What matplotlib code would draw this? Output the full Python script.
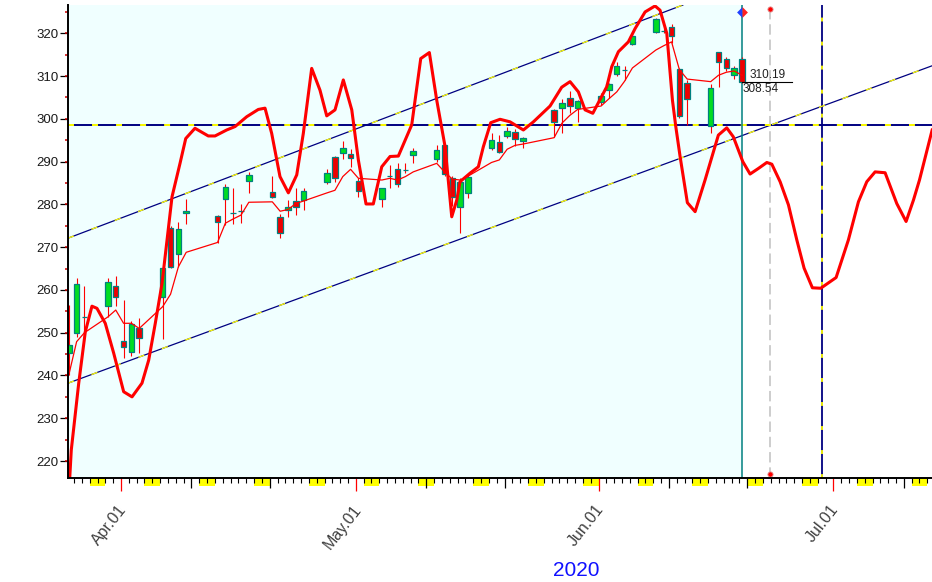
import datetime as dt
import matplotlib
matplotlib.use("Agg")
import matplotlib.pyplot as plt
import matplotlib.transforms as mtransforms
from matplotlib.patches import Rectangle
from matplotlib.path import Path

plt.rcParams['font.family'] = ['Liberation Sans', 'DejaVu Sans']
plt.rcParams['lines.scale_dashes'] = False

# ---------------- data ----------------
dates = ['2020-03-25', '2020-03-26', '2020-03-27', '2020-03-30', '2020-03-31',
         '2020-04-01', '2020-04-02', '2020-04-03', '2020-04-06', '2020-04-07',
         '2020-04-08', '2020-04-09', '2020-04-13', '2020-04-14', '2020-04-15',
         '2020-04-16', '2020-04-17', '2020-04-20', '2020-04-21', '2020-04-22',
         '2020-04-23', '2020-04-24', '2020-04-27', '2020-04-28', '2020-04-29',
         '2020-04-30', '2020-05-01', '2020-05-04', '2020-05-05', '2020-05-06',
         '2020-05-07', '2020-05-08', '2020-05-11', '2020-05-12', '2020-05-13',
         '2020-05-14', '2020-05-15', '2020-05-18', '2020-05-19', '2020-05-20',
         '2020-05-21', '2020-05-22', '2020-05-26', '2020-05-27', '2020-05-28',
         '2020-05-29', '2020-06-01', '2020-06-02', '2020-06-03', '2020-06-04',
         '2020-06-05', '2020-06-08', '2020-06-09', '2020-06-10', '2020-06-11',
         '2020-06-12', '2020-06-15', '2020-06-16', '2020-06-17', '2020-06-18',
         '2020-06-19']
opens = [245.3, 249.9, 253.6, 256.2, 260.9, 248.1, 245.6, 251.0, 258.3, 274.4,
         268.3, 277.9, 277.3, 281.3, 277.9, 278.5, 285.5, 282.9, 277.0, 278.7,
         280.8, 281.0, 285.2, 291.0, 291.9, 291.7, 285.5, 281.2, 286.7, 288.2,
         288.0, 291.5, 290.6, 293.9, 286.2, 279.3, 282.7, 293.3, 294.5, 296.1,
         296.9, 294.9, 302.1, 302.5, 304.8, 302.6, 303.9, 306.7, 310.4, 311.4,
         317.4, 320.4, 320.6, 321.4, 311.7, 308.3, 298.3, 315.6, 314.1, 310.2,
         314.1]
highs = [256.5, 262.9, 260.9, 262.7, 263.3, 257.6, 252.8, 253.4, 265.1, 275.0,
         276.0, 281.2, 277.5, 284.7, 283.8, 280.2, 287.6, 286.6, 277.8, 281.0,
         283.8, 283.8, 288.2, 291.3, 294.9, 292.9, 286.1, 283.8, 289.2, 289.7,
         289.7, 293.1, 293.9, 294.1, 286.6, 286.1, 286.9, 296.8, 296.2, 298.0,
         297.6, 295.8, 302.2, 304.6, 306.6, 304.4, 306.0, 308.5, 313.2, 312.4,
         320.0, 323.5, 321.2, 322.2, 311.8, 309.1, 308.1, 315.7, 314.5, 312.4,
         314.4]
lows = [240.1, 249.1, 248.0, 253.7, 256.2, 244.2, 244.6, 245.3, 248.5, 265.1,
        265.4, 275.4, 271.0, 275.2, 275.4, 275.7, 282.6, 281.4, 272.1, 277.0,
        277.5, 278.7, 284.8, 285.3, 290.5, 288.7, 281.7, 279.3, 283.8, 284.0,
        287.3, 289.7, 290.0, 286.6, 279.6, 273.2, 281.4, 292.7, 291.9, 295.6,
        293.6, 293.1, 295.8, 296.8, 301.3, 299.3, 303.2, 304.8, 310.0, 309.1,
        317.3, 320.0, 320.0, 317.7, 300.1, 298.6, 296.8, 307.5, 311.2, 309.3,
        308.5]
closes = [247.1, 261.3, 253.6, 261.8, 258.3, 246.6, 252.0, 248.7, 265.1, 265.4,
          274.2, 278.5, 276.0, 284.0, 277.9, 278.5, 286.9, 281.8, 273.4, 279.3,
          279.5, 283.2, 287.3, 286.1, 293.3, 290.8, 283.1, 283.8, 286.7, 284.8,
          288.0, 292.5, 292.7, 287.0, 281.8, 285.2, 286.5, 295.1, 292.2, 297.1,
          295.2, 295.5, 299.3, 303.6, 303.1, 304.2, 305.4, 308.1, 312.4, 311.4,
          319.4, 323.3, 320.6, 319.4, 300.7, 304.6, 307.1, 313.2, 311.8, 311.8,
          308.54]
ma_vals = [240.1, 247.9, 250.0, 253.7, 255.3, 252.2, 252.2, 251.0, 256.1, 259.0,
           265.4, 268.8, 271.1, 275.6, 276.6, 277.5, 280.5, 280.6, 278.4, 278.8,
           280.2, 280.8, 282.7, 283.3, 286.5, 288.2, 286.1, 285.7, 286.1, 285.7,
           286.5, 287.6, 289.6, 287.6, 285.9, 285.7, 286.6, 289.8, 290.4, 292.9,
           293.8, 294.1, 295.6, 299.0, 300.8, 302.2, 303.0, 304.7, 306.3, 308.8,
           311.9, 316.1, 317.1, 318.0, 311.5, 309.3, 308.7, 310.2, 310.9, 311.2,
           310.19]

# projected cycle curve: days after 2020-04-01 and values
cycle_days = [-6.64, -6.35, -5.40, -4.56, -3.71, -3.07, -2.01, -0.93, 0.34, 1.41,
              2.68, 3.54, 4.38, 5.24, 6.52, 7.54, 8.27, 9.45, 11.15, 12.01,
              13.50, 14.57, 16.06, 17.54, 18.40, 19.25, 20.31, 21.38, 22.45, 23.29,
              24.36, 25.42, 26.28, 27.34, 28.40, 29.48, 30.32, 31.30, 32.23, 33.31,
              34.37, 35.43, 37.14, 38.29, 39.39, 40.33, 41.40, 42.25, 42.89, 43.31,
              44.59, 45.65, 46.29, 47.23, 48.42, 49.70, 51.40, 52.68, 54.81, 56.30,
              57.36, 58.43, 59.28, 60.27, 62.05, 62.69, 63.54, 64.81, 65.67, 66.95,
              68.22, 68.86, 69.72, 70.44, 70.87, 71.42, 72.35, 73.34, 74.61, 76.31,
              77.38, 78.22, 79.43, 80.36, 81.42, 82.50, 83.14, 84.20, 85.26, 86.33,
              87.26, 88.32, 89.39, 91.35, 92.92, 94.20, 95.27, 96.33, 97.61, 99.10,
              100.29, 101.23, 102.00, 103.62]
cycle_vals = [213.0, 222.6, 238.2, 250.2, 256.2, 255.7, 252.2, 245.2, 236.2, 235.0,
              238.2, 243.6, 252.2, 261.5, 281.8, 289.6, 295.4, 297.8, 296.0, 296.0,
              297.4, 298.2, 300.5, 302.2, 302.5, 296.6, 286.5, 282.7, 286.9, 296.6,
              311.8, 306.7, 300.7, 302.1, 309.1, 302.1, 290.4, 280.1, 280.1, 288.8,
              291.2, 291.3, 298.6, 314.1, 315.5, 304.4, 293.5, 277.1, 281.0, 285.3,
              287.3, 288.8, 293.5, 299.1, 299.9, 299.3, 297.4, 299.3, 303.0, 307.4,
              308.7, 306.3, 302.1, 301.3, 307.5, 312.2, 315.7, 318.0, 321.1, 325.0,
              326.4, 325.4, 320.0, 304.4, 298.2, 291.2, 280.4, 278.3, 285.7, 296.2,
              297.9, 295.8, 290.0, 287.1, 288.4, 289.8, 289.4, 285.3, 279.9, 271.7,
              265.1, 260.5, 260.4, 262.9, 271.7, 280.6, 285.3, 287.6, 287.4, 280.2,
              276.0, 281.0, 285.7, 297.4]

tick_dates = ['2020-04-01', '2020-05-01', '2020-06-01', '2020-07-01']
tick_labels = ['Apr.01', 'May.01', 'Jun.01', 'Jul.01']
year_label = '2020'
level_h = 298.6
upper_channel = [(-6.77, 272.1), (71.6, 326.5)]
lower_channel = [(-6.77, 238.2), (103.6, 312.4)]
marker_day = 82.92
cycle_line_day = 89.57
label_ma = '310.19'
label_close = '308.54'
close_level = 308.54

# ---------------- helpers ----------------
BASE = dt.date(2020, 4, 1)


def dnum(s):
    y, m, d = map(int, s.split('-'))
    return (dt.date(y, m, d) - BASE).days


XMIN, XMAX = -6.77, 103.6
YMIN, YMAX = 216.03, 326.62
OFF = 0.33

fig = plt.figure(figsize=(9.32, 5.82), dpi=100)
ax = fig.add_axes([68 / 932, 104 / 582, 864 / 932, 473 / 582])
ax.set_xlim(XMIN, XMAX)
ax.set_ylim(YMIN, YMAX)
ax.set_facecolor('white')

xs = [dnum(s) + OFF for s in dates]
last_x = xs[-1]

# light cyan history area
ax.axvspan(XMIN, last_x, color='#F0FFFF', zorder=0, lw=0)

NAVY = '#000080'
YEL = '#FFFF00'

# horizontal level line
ax.axhline(level_h, color=NAVY, lw=1.4, zorder=1.5)
ax.axhline(level_h, color=YEL, lw=1.4, zorder=1.6, dashes=(4.3, 13.0))

# channel lines
for p1, p2 in (upper_channel, lower_channel):
    ax.axline(p1, p2, color=NAVY, lw=0.9, zorder=1.5)
    ax.axline(p1, p2, color=YEL, lw=0.9, zorder=1.6, dashes=(4.5, 13.5))

# vertical cycle line
ax.axvline(cycle_line_day, color=NAVY, lw=1.3, zorder=1.5)
ax.axvline(cycle_line_day, color=YEL, lw=1.3, zorder=1.6, dashes=(2.8, 14.5))

# last bar line
ax.axvline(last_x, color='#008080', lw=1.1, zorder=1.7)

# grey dashed marker line with red dots
ax.plot([marker_day, marker_day], [325.8, 216.96], color='#C0C0C0', lw=1.1,
        dashes=(7.5, 3.5), zorder=1.5)
ax.plot([marker_day, marker_day], [325.8, 216.96], ls='none', marker='o', ms=3.8,
        mfc='#FF0000', mec='#E0A0A0', mew=0.6, zorder=6, clip_on=False)

# diamond at top of last bar line
left_half = Path([(-1, 0), (0, 1), (0, -1), (-1, 0)], closed=True)
right_half = Path([(1, 0), (0, 1), (0, -1), (1, 0)], closed=True)
ax.plot([last_x], [325.0], marker=left_half, ms=7.8, color='#2040FF', mew=0,
        ls='none', zorder=7, clip_on=False)
ax.plot([last_x], [325.0], marker=right_half, ms=7.8, color='#FF2020', mew=0,
        ls='none', zorder=7, clip_on=False)

# candlesticks
GREEN = '#00DD22'
RED = '#EE0000'
TEAL = '#008080'
W = 0.7
for x, o, h, l, c in zip(xs, opens, highs, lows, closes):
    ax.plot([x, x], [l, h], color='#FF0000', lw=0.8, zorder=3, solid_capstyle='butt')
    lo, hi = min(o, c), max(o, c)
    fc = GREEN if c > o else (RED if c < o else TEAL)
    ax.add_patch(Rectangle((x - W / 2, lo), W, hi - lo, facecolor=fc,
                           edgecolor=TEAL, lw=0.9, zorder=3.5))

# moving average
ax.plot(xs, ma_vals, color='#FF0000', lw=0.9, zorder=4)

# projected cycle curve
ax.plot(cycle_days, cycle_vals, color='#FF0000', lw=2.2, zorder=5,
        solid_joinstyle='round')

# last values labels
ax.plot([last_x, 85.69], [close_level, close_level], color='black', lw=0.8, zorder=6)
ax.text(80.23, 310.25, label_ma, fontsize=8.5, color='#202020', va='center', ha='left', zorder=7)
ax.text(79.46, 306.9, label_close, fontsize=8.5, color='#202020', va='center', ha='left', zorder=7)

# ---------------- axes styling ----------------
for s in ('top', 'right'):
    ax.spines[s].set_visible(False)
for s in ('left', 'bottom'):
    ax.spines[s].set_linewidth(1.4)
    ax.spines[s].set_color('black')
    ax.spines[s].set_zorder(8)

# y axis
ax.set_yticks(range(220, 321, 10))
ax.set_yticks(range(220, 326, 5), minor=True)
ax.yaxis.remove_overlapping_locs = False
ax.tick_params(axis='y', which='major', length=5.8, width=0.9, color='black',
               labelsize=9.5, labelcolor='#1a1a1a', pad=1.2)
ax.tick_params(axis='y', which='minor', length=2.2, width=1.1, color='#CC0000')

# x axis: day ticks
first_day = int(XMIN) - 1
all_days = [d for d in range(first_day, int(XMAX) + 1) if XMIN <= d <= XMAX]
major_days = []
first_of_month = set(dnum(s) for s in tick_dates)
for d in all_days:
    day = BASE + dt.timedelta(days=d)
    if day.day in (1, 10, 20):
        major_days.append(d)
ax.set_xticks(major_days)
ax.set_xticklabels([''] * len(major_days))
ax.set_xticks(all_days, minor=True)
ax.tick_params(axis='x', which='minor', length=3.6, width=0.8, color='black')
ax.tick_params(axis='x', which='major', length=7.2, width=0.9, color='black')
for tk, d in zip(ax.xaxis.get_major_ticks(), major_days):
    if d in first_of_month:
        tk.tick1line.set_markeredgecolor('#FF0000')
        tk.tick1line.set_markersize(9.3)

# weekend blocks under axis
btrans = mtransforms.blended_transform_factory(ax.transData, ax.transAxes)
h_frac = 7.7 / 473
for d in all_days:
    day = BASE + dt.timedelta(days=d)
    if day.weekday() == 5:
        ax.add_patch(Rectangle((d, -h_frac), 2, h_frac, transform=btrans,
                               facecolor='#FFFF00', edgecolor='none',
                               clip_on=False, zorder=1))

# month labels
lab_trans = mtransforms.offset_copy(btrans, fig=fig, x=8.5, y=-24, units='dots')
for s, lab in zip(tick_dates, tick_labels):
    ax.text(dnum(s), 0, lab, transform=lab_trans, rotation=52, ha='right', va='top',
            fontsize=11.5, color='#404040')

fig.text(576.7 / 932, 1 - 570.7 / 582, year_label, color='#1010FF', fontsize=15,
         ha='center', va='center')

fig.savefig('out.png', dpi=100)
